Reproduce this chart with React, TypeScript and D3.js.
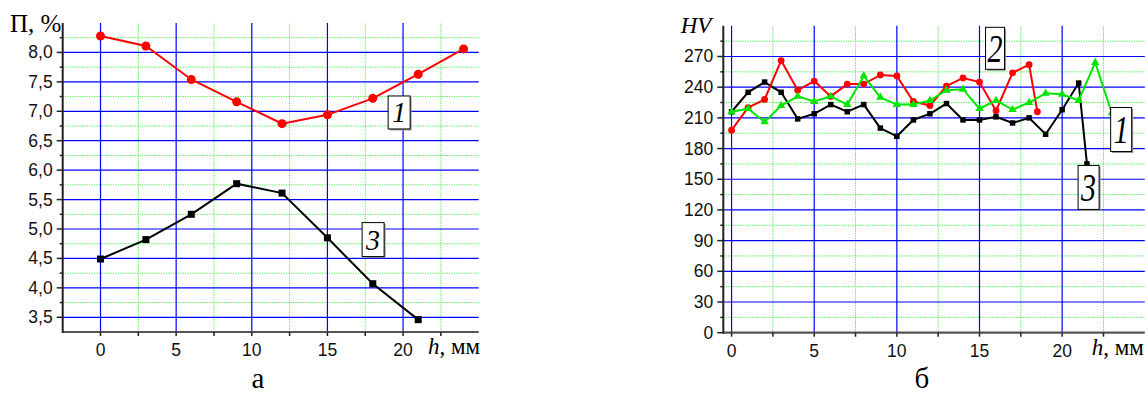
import React from 'react';
import * as d3 from 'd3';

const W = 1148;
const H = 396;

// panel "а": П, % against h, mm
const aH1 = [0, 3, 6, 9, 12, 15, 18, 21, 24];
const aP1 = [8.28, 8.11, 7.54, 7.16, 6.79, 6.94, 7.22, 7.63, 8.06];
const aH3 = [0, 3, 6, 9, 12, 15, 18, 21];
const aP3 = [4.49, 4.82, 5.25, 5.77, 5.61, 4.85, 4.07, 3.46];
const aYTicks = [3.5, 4.0, 4.5, 5.0, 5.5, 6.0, 6.5, 7.0, 7.5, 8.0];
const aXTicks = [0, 5, 10, 15, 20];

// panel "б": HV against h, mm
const bH1 = [0, 1, 2, 3, 4, 5, 6, 7, 8, 9, 10, 11, 12, 13, 14, 15, 16, 17, 18, 19, 20, 21, 22, 23];
const bHV1 = [216, 219, 206, 222, 231, 226, 231, 223, 251, 230, 223, 223, 227, 237, 238, 219, 227, 218, 225, 234, 233, 227, 264, 215];
const bH2 = [0, 1, 2, 3, 4, 5, 6, 7, 8, 9, 10, 11, 12, 13, 14, 15, 16, 17, 18, 18.5];
const bHV2 = [198, 220, 228, 266, 237, 246, 231, 243, 243, 252, 251, 226, 222, 241, 249, 245, 217, 254, 262, 216];
const bH3 = [0, 1, 2, 3, 4, 5, 6, 7, 8, 9, 10, 11, 12, 13, 14, 15, 16, 17, 18, 19, 20, 21, 21.5];
const bHV3 = [216, 235, 245, 235, 209, 214, 223, 216, 223, 200, 192, 208, 214, 224, 208, 208, 211, 205, 210, 194, 218, 244, 165];
const bYTicks = [0, 30, 60, 90, 120, 150, 180, 210, 240, 270];
const bXTicks = [0, 5, 10, 15, 20];

const SANS = '"Liberation Sans", Arial, sans-serif';
const SERIF = '"Liberation Serif", "Times New Roman", serif';
const BLUE = '#0000ff';
const GREEN = '#44ee44';

type Series = { xs: number[]; ys: number[]; color: string; marker: 'circle' | 'square' | 'triangle'; size: number };
type Note = { x: number; y: number; text: string; w: number; h: number; fs: number; sy: number };

type PanelProps = {
  x: d3.ScaleLinear<number, number>;
  y: d3.ScaleLinear<number, number>;
  xTicks: number[];
  yTicks: number[];
  xStep: number;
  yStep: number;
  yFmt: (v: number) => string;
  series: Series[];
  notes: Note[];
  yTitle: React.ReactNode;
  xTitleX: number;
  caption: string;
  captionX: number;
};

function Marker({ s, cx, cy }: { s: Series; cx: number; cy: number }) {
  if (s.marker === 'circle') return <circle cx={cx} cy={cy} r={s.size} fill={s.color} />;
  if (s.marker === 'square')
    return <rect x={cx - s.size / 2} y={cy - s.size / 2} width={s.size} height={s.size} fill={s.color} />;
  const d = d3.symbol(d3.symbolTriangle, s.size)() || '';
  return <path d={d} transform={`translate(${cx},${cy})`} fill={s.color} />;
}

function Panel(p: PanelProps) {
  const [x0, x1] = p.x.range();
  const [y0, y1] = p.y.range();
  const [dx0, dx1] = p.x.domain();
  const [dy0, dy1] = p.y.domain();
  const xMinor = d3.range(p.xTicks[0] + p.xStep / 2, dx1 - 1e-6, p.xStep);
  const yMinor = d3.range(p.yTicks[0] - p.yStep / 2 > dy0 + 1e-6 ? p.yTicks[0] - p.yStep / 2 : p.yTicks[0] + p.yStep / 2, dy1 - 1e-6, p.yStep);
  const line = d3.line<number>();
  return (
    <g>
      {/* minor grid */}
      {yMinor.map((v) => (
        <line key={'ym' + v} x1={x0} x2={x1} y1={p.y(v)} y2={p.y(v)} stroke={GREEN} strokeWidth={1} strokeDasharray="1.2 1.2" />
      ))}
      {xMinor.map((v) => (
        <line key={'xm' + v} x1={p.x(v)} x2={p.x(v)} y1={y0} y2={y1} stroke={GREEN} strokeWidth={1} strokeDasharray="1.2 1.2" />
      ))}
      {/* major grid */}
      {p.yTicks.filter((v) => v > dy0).map((v) => (
        <line key={'yM' + v} x1={x0} x2={x1} y1={p.y(v)} y2={p.y(v)} stroke={BLUE} strokeWidth={1.2} />
      ))}
      {p.xTicks.map((v) => (
        <line key={'xM' + v} x1={p.x(v)} x2={p.x(v)} y1={y0} y2={y1} stroke={BLUE} strokeWidth={1.2} />
      ))}
      {/* axes */}
      <line x1={x0} x2={x1} y1={y0} y2={y0} stroke="#555" strokeWidth={2.2} />
      <line x1={x0} x2={x0} y1={y0 + 1} y2={y1} stroke="#222" strokeWidth={2} />
      {p.yTicks.map((v) => (
        <g key={'yt' + v}>
          <line x1={x0 - 6} x2={x0} y1={p.y(v)} y2={p.y(v)} stroke="#222" strokeWidth={1.5} />
          <text x={x0 - 10} y={p.y(v) + 6} textAnchor="end" fontFamily={SANS} fontSize={17.5} fill="#111">
            {p.yFmt(v)}
          </text>
        </g>
      ))}
      {yMinor.map((v) => (
        <line key={'ymt' + v} x1={x0 - 3} x2={x0} y1={p.y(v)} y2={p.y(v)} stroke="#222" strokeWidth={1.5} />
      ))}
      {p.xTicks.map((v) => (
        <g key={'xt' + v}>
          <line x1={p.x(v)} x2={p.x(v)} y1={y0} y2={y0 + 4} stroke="#222" strokeWidth={1.5} />
          <text x={p.x(v)} y={y0 + 24} textAnchor="middle" fontFamily={SANS} fontSize={17.5} fill="#111">
            {v}
          </text>
        </g>
      ))}
      {xMinor.map((v) => (
        <line key={'xmt' + v} x1={p.x(v)} x2={p.x(v)} y1={y0} y2={y0 + 4} stroke="#222" strokeWidth={1.5} />
      ))}
      {/* data */}
      {p.series.map((s, i) => {
        const pts = s.xs.map((h, j) => [p.x(h), p.y(s.ys[j])] as [number, number]);
        return (
          <g key={'s' + i}>
            <path d={line(pts as any) || ''} fill="none" stroke={s.color} strokeWidth={2} />
            {pts.map(([cx, cy], j) => (
              <Marker key={j} s={s} cx={cx} cy={cy} />
            ))}
          </g>
        );
      })}
      {/* curve labels */}
      {p.notes.map((n, i) => {
        const cx = p.x(n.x);
        const cy = p.y(n.y);
        return (
          <g key={'n' + i}>
            <rect x={cx - n.w / 2 + 1.5} y={cy - n.h / 2 + 1.5} width={n.w} height={n.h} fill="#999" />
            <rect x={cx - n.w / 2} y={cy - n.h / 2} width={n.w} height={n.h} fill="#fff" stroke="#000" strokeWidth={1} />
            <text
              transform={`translate(${cx},${cy}) scale(1,${n.sy})`}
              y={n.fs * 0.34}
              textAnchor="middle"
              fontFamily={SERIF}
              fontStyle="italic"
              fontSize={n.fs}
            >
              {n.text}
            </text>
          </g>
        );
      })}
      {p.yTitle}
      <text x={p.xTitleX} y={y0 + 22} fontFamily={SERIF} fontSize={23} fill="#000">
        <tspan fontStyle="italic">h</tspan>, мм
      </text>
      <text x={p.captionX} y={388} textAnchor="middle" fontFamily={SERIF} fontSize={29} fill="#000">
        {p.caption}
      </text>
    </g>
  );
}

export default function App() {
  const ax = d3.scaleLinear().domain([-2.5, 25]).range([62.7, 478.7]);
  const ay = d3.scaleLinear().domain([3.25, 8.5]).range([332, 23]);
  const bx = d3.scaleLinear().domain([-0.5, 25]).range([723.3, 1144.8]);
  const by = d3.scaleLinear().domain([0, 300]).range([332.7, 25.8]);

  return (
    <svg width={W} height={H} style={{ position: 'absolute', left: 0, top: 0, background: '#fff' }}>
      <Panel
        x={ax}
        y={ay}
        xTicks={aXTicks}
        yTicks={aYTicks}
        xStep={5}
        yStep={0.5}
        yFmt={(v) => v.toFixed(1).replace('.', ',')}
        series={[
          { xs: aH1, ys: aP1, color: '#ff0000', marker: 'circle', size: 4.5 },
          { xs: aH3, ys: aP3, color: '#000', marker: 'square', size: 7 },
        ]}
        notes={[
          { x: 19.74, y: 6.98, text: '1', w: 22, h: 33, fs: 28, sy: 1.05 },
          { x: 18.02, y: 4.82, text: '3', w: 22, h: 34, fs: 28, sy: 1.05 },
        ]}
        yTitle={
          <text x={10} y={32} fontFamily={SERIF} fontSize={25} fill="#000">
            П, %
          </text>
        }
        xTitleX={428}
        caption="а"
        captionX={258}
      />
      <Panel
        x={bx}
        y={by}
        xTicks={bXTicks}
        yTicks={bYTicks}
        xStep={5}
        yStep={30}
        yFmt={(v) => String(v)}
        series={[
          { xs: bH3, ys: bHV3, color: '#000', marker: 'square', size: 5.5 },
          { xs: bH2, ys: bHV2, color: '#ff0000', marker: 'circle', size: 3.4 },
          { xs: bH1, ys: bHV1, color: '#00e600', marker: 'triangle', size: 30 },
        ]}
        notes={[
          { x: 15.94, y: 278, text: '2', w: 19, h: 42, fs: 30, sy: 1.35 },
          { x: 23.57, y: 198.6, text: '1', w: 21, h: 44, fs: 30, sy: 1.35 },
          { x: 21.6, y: 142, text: '3', w: 21, h: 44, fs: 30, sy: 1.35 },
        ]}
        yTitle={
          <text x={680.7} y={33} fontFamily={SERIF} fontStyle="italic" fontSize={23} fill="#000">
            HV
          </text>
        }
        xTitleX={1091.7}
        caption="б"
        captionX={922}
      />
    </svg>
  );
}
